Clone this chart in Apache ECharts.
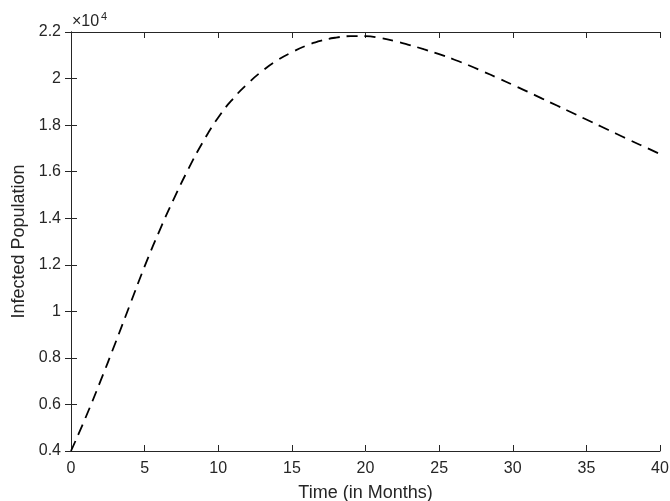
<!DOCTYPE html>
<html>
<head>
<meta charset="utf-8">
<script src="https://cdn.jsdelivr.net/npm/echarts@6/dist/echarts.min.js"></script>
<style>
html,body{margin:0;padding:0;background:#fff;}
#c{width:670px;height:501px;}
</style>
</head>
<body>
<div id="c"></div>
<script>
// Time in months
var months = [0,1,2,3,4,5,6,7,8,9,10,11,12,13,14,15,16,17,18,19,20,21,22,23,24,25,26,27,28,29,30,31,32,33,34,35,36,37,38,39,40];
// Infected population
var infected = [4000,5450,7000,8620,10280,11930,13450,14850,16150,17320,18330,19130,19780,20330,20780,21130,21420,21630,21760,21820,21820,21740,21610,21440,21250,21050,20820,20570,20300,20020,19730,19440,19140,18840,18540,18240,17940,17640,17340,17050,16760];
var xTicks = {min:0, max:40, step:5};
var yTicks = {min:4000, max:22000, step:2000};
var xTitle = 'Time (in Months)';
var yTitle = 'Infected Population';
var expLabel = '×10';
var expPower = '4';

var pts = months.map(function(m,i){return [m, infected[i]];});
var axisColor = '#262626';
var font = 'Liberation Sans, Arial, sans-serif';

var chart = echarts.init(document.getElementById('c'), null, {renderer:'canvas'});
var baseX = {
  type:'value', min:xTicks.min, max:xTicks.max, interval:xTicks.step,
  axisLine:{show:true, lineStyle:{color:axisColor, width:1}},
  axisTick:{show:true, inside:true, length:6, lineStyle:{color:axisColor}},
  splitLine:{show:false}
};
var baseY = {
  type:'value', min:yTicks.min, max:yTicks.max, interval:yTicks.step,
  axisLine:{show:true, lineStyle:{color:axisColor, width:1}},
  axisTick:{show:true, inside:true, length:6, lineStyle:{color:axisColor}},
  splitLine:{show:false}
};
chart.setOption({
  animation:false,
  backgroundColor:'#ffffff',
  grid:{left:71, right:10, top:32, bottom:50, show:false, containLabel:false, outerBoundsMode:'none'},
  xAxis:[
    Object.assign({}, baseX, {position:'bottom',
      axisLabel:{show:true, color:axisColor, fontSize:16, fontFamily:font, margin:10},
      name:xTitle, nameLocation:'middle', nameGap:33,
      nameTextStyle:{color:axisColor, fontSize:18, fontFamily:font}}),
    Object.assign({}, baseX, {position:'top', axisLabel:{show:false}})
  ],
  yAxis:[
    Object.assign({}, baseY, {position:'left',
      axisLabel:{show:true, color:axisColor, fontSize:16, fontFamily:font, margin:10,
        formatter:function(v){return String(+(v/10000).toFixed(2));}},
      name:yTitle, nameLocation:'middle', nameGap:42,
      nameTextStyle:{color:axisColor, fontSize:18, fontFamily:font}}),
    Object.assign({}, baseY, {position:'right', axisLabel:{show:false}})
  ],
  graphic:[
    {type:'text', left:72, top:14, style:{text:expLabel, fontSize:16, fontFamily:font, fill:axisColor}},
    {type:'text', left:101, top:11, style:{text:expPower, fontSize:11, fontFamily:font, fill:axisColor}}
  ],
  series:[{
    type:'line', data:pts, showSymbol:false, smooth:true,
    lineStyle:{color:'#000', width:1.8, type:[11,7]}
  }]
});
</script>
</body>
</html>
